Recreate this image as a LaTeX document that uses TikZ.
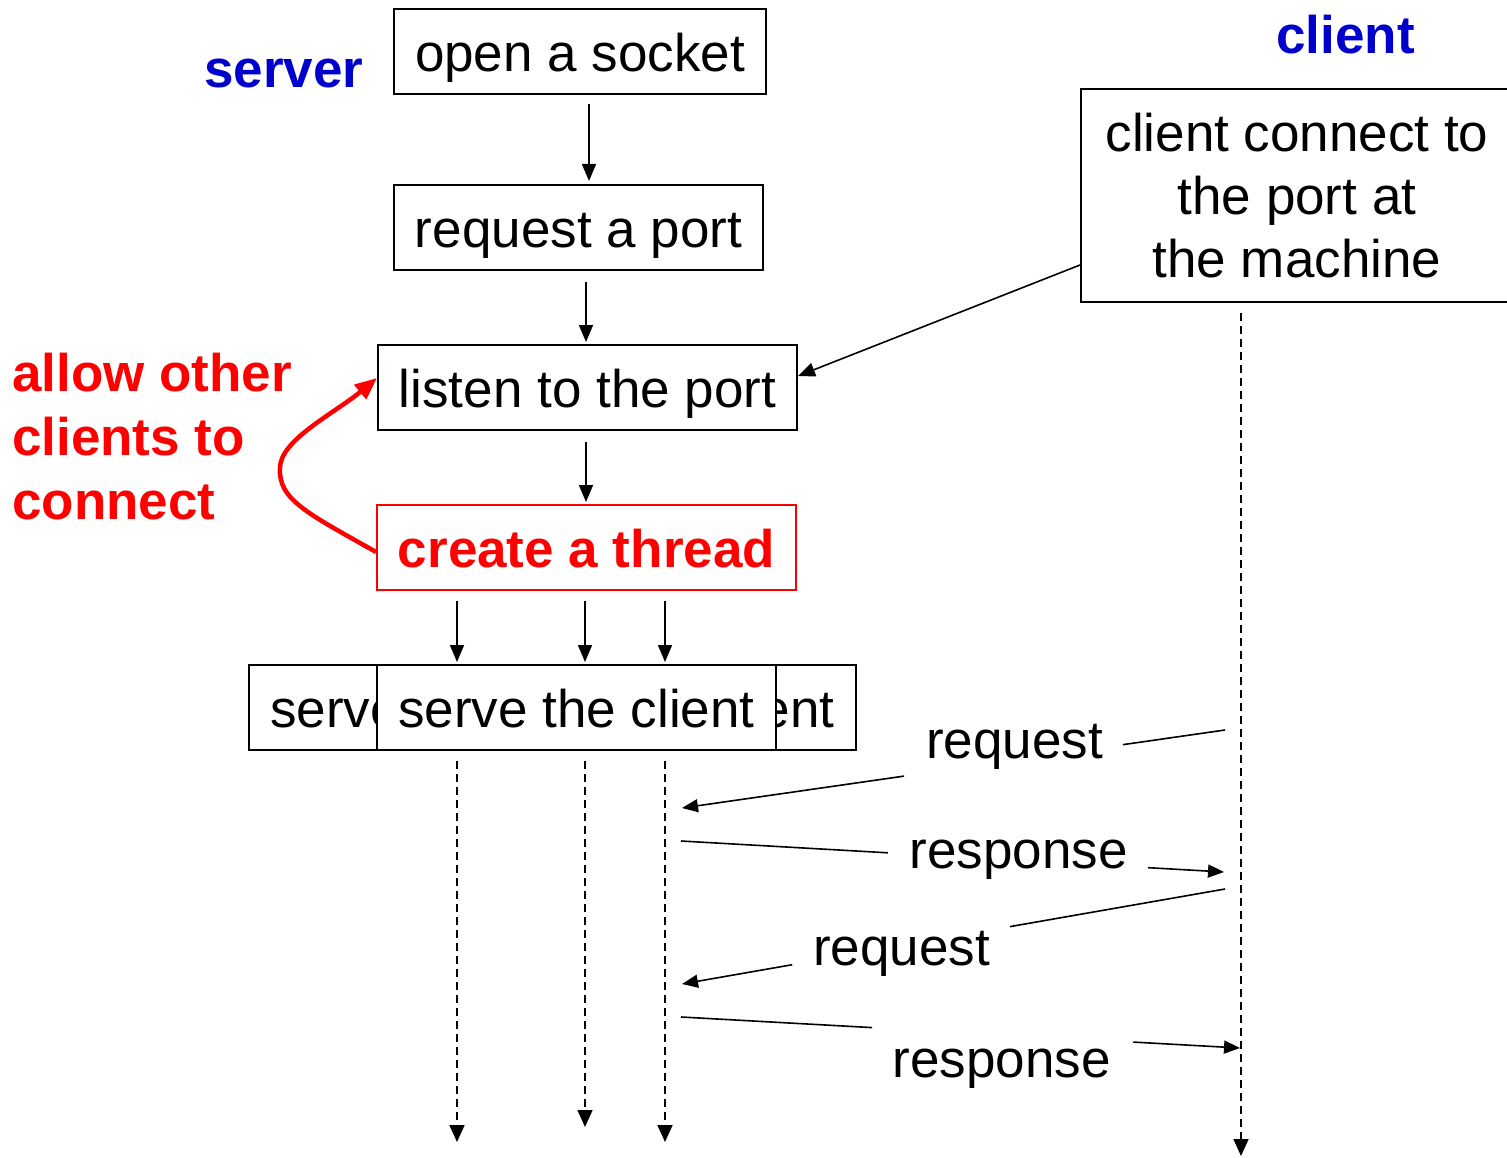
\documentclass[tikz,border=0pt]{standalone}
\usepackage{fontspec}
\setmainfont{Liberation Sans}
\usetikzlibrary{arrows.meta,calc}
\definecolor{lanecol}{RGB}{0,0,204}
\definecolor{thrcol}{RGB}{255,0,0}
\begin{document}
\begin{tikzpicture}[x=1pt,y=-1pt,
  txt/.style={font=\fontsize{53}{63}\selectfont},
  stepbox/.style={draw, line width=2pt, fill=white, inner sep=0pt,
    minimum height=85pt, text height=51pt, text depth=11pt, txt},
  arr/.style={line width=1.6pt, -{Triangle[length=17pt,width=14pt]}},
  life/.style={line width=1.6pt, dash pattern=on 8pt off 5pt,
    -{Triangle[length=17pt,width=15pt]}},
  msg/.style={line width=1.6pt},
  msgarr/.style={msg, -{Triangle[length=16pt,width=13pt]}},
  lane/.style={font=\fontsize{53}{63}\selectfont\bfseries, text=lanecol, inner sep=0pt},
  msglbl/.style={txt, inner sep=0pt}
]
\useasboundingbox (0,0) rectangle (1507,1158);

% lane titles
\node[lane, anchor=base] (srvlbl) at (284,88) {server};
\node[lane, anchor=base] (clilbl) at (1345.5,54) {client};

% server steps
\node[stepbox, minimum width=372pt] (open) at (580,51.5) {open a socket};
\node[stepbox, minimum width=369pt] (req) at (578.5,227.5) {request a port};
\node[stepbox, minimum width=419pt] (lst) at (587.5,387.5) {listen to the port};
\node[stepbox, minimum width=419pt, draw=thrcol, text=thrcol,
  font=\fontsize{53}{63}\selectfont\bfseries] (thr) at (586.5,547.5) {create a thread};

% stacked worker threads
\node[stepbox, minimum width=399pt] (srvA) at (448.5,707.5) {serve the client};
\node[stepbox, minimum width=399pt] (srvC) at (656.5,707.5) {serve the client};
\node[stepbox, minimum width=399pt] (srvB) at (576.5,707.5) {serve the client};

% client step
\node[draw, line width=2pt, txt, align=center, inner sep=0pt,
  minimum width=432pt, minimum height=213pt] (cl) at (1297,195.5)
  {client connect to\\the port at\\the machine};

% side note
\node[font=\fontsize{53}{64}\selectfont\bfseries, text=thrcol, align=left,
  anchor=north west, inner sep=0pt] (note) at (12,353)
  {allow other\\clients to\\connect};

% server flow
\draw[arr, shorten <=9pt, shorten >=3pt] ([xshift=9pt]open.south) -- ([xshift=9pt]open.south |- req.north);
\draw[arr, shorten <=11pt, shorten >=2pt] ([xshift=7.5pt]req.south) -- ([xshift=7.5pt]req.south |- lst.north);
\draw[arr, shorten <=11pt, shorten >=2pt] ([xshift=-1.5pt]lst.south) -- ([xshift=-1.5pt]lst.south |- thr.north);

% client connects
\draw[arr] ([yshift=-69.5pt]cl.west) -- ([yshift=11.5pt]lst.east);

% loop back for further clients
\coordinate (bend) at (280,468);
\draw[line width=4.5pt, thrcol, -{Triangle[length=22pt,width=18pt]}]
  ([yshift=-4.5pt]thr.west) .. controls +(-67,-38) and +(-2,32) .. (bend)
  .. controls +(0,-28) and +(-42,35) .. ([yshift=9.5pt]lst.west);

% lifeline ends
\coordinate (laneA) at (457,1142);
\coordinate (laneB) at (585,1127);
\coordinate (laneC) at (665,1142);
\coordinate (laneD) at (1241,1156);

% spawning threads
\draw[arr, shorten <=10pt, shorten >=2pt] (thr.south -| laneA) -- (srvB.north -| laneA);
\draw[arr, shorten <=10pt, shorten >=2pt] (thr.south -| laneB) -- (srvB.north -| laneB);
\draw[arr, shorten <=10pt, shorten >=2pt] (thr.south -| laneC) -- (srvB.north -| laneC);

% lifelines
\draw[life, shorten <=10pt] (srvB.south -| laneA) -- (laneA);
\draw[life, shorten <=10pt] (srvB.south -| laneB) -- (laneB);
\draw[life, shorten <=10pt] (srvB.south -| laneC) -- (laneC);
\draw[life, shorten <=10pt] (cl.south -| laneD) -- (laneD);

% message exchange
\coordinate (q1s) at (1225,730);  \coordinate (q1e) at (682,808);
\coordinate (r1s) at (681,841);   \coordinate (r1e) at (1224,872);
\coordinate (q2s) at (1225,889);  \coordinate (q2e) at (682,984);
\coordinate (r2s) at (681,1017);  \coordinate (r2e) at (1240,1048);

\node[msglbl, anchor=base] (q1) at (1014.5,758) {request};
\node[msglbl, anchor=base] (r1) at (1018.5,868) {response};
\node[msglbl, anchor=base] (q2) at (901.5,965) {request};
\node[msglbl, anchor=base] (r2) at (1001.5,1077) {response};

\draw[msg] (q1s) -- ($(q1s)!0.188!(q1e)$);
\draw[msgarr] ($(q1s)!0.591!(q1e)$) -- (q1e);
\draw[msg] (r1s) -- ($(r1s)!0.381!(r1e)$);
\draw[msgarr] ($(r1s)!0.860!(r1e)$) -- (r1e);
\draw[msg] (q2s) -- ($(q2s)!0.396!(q2e)$);
\draw[msgarr] ($(q2s)!0.797!(q2e)$) -- (q2e);
\draw[msg] (r2s) -- ($(r2s)!0.342!(r2e)$);
\draw[msgarr] ($(r2s)!0.809!(r2e)$) -- (r2e);
\end{tikzpicture}
\end{document}
